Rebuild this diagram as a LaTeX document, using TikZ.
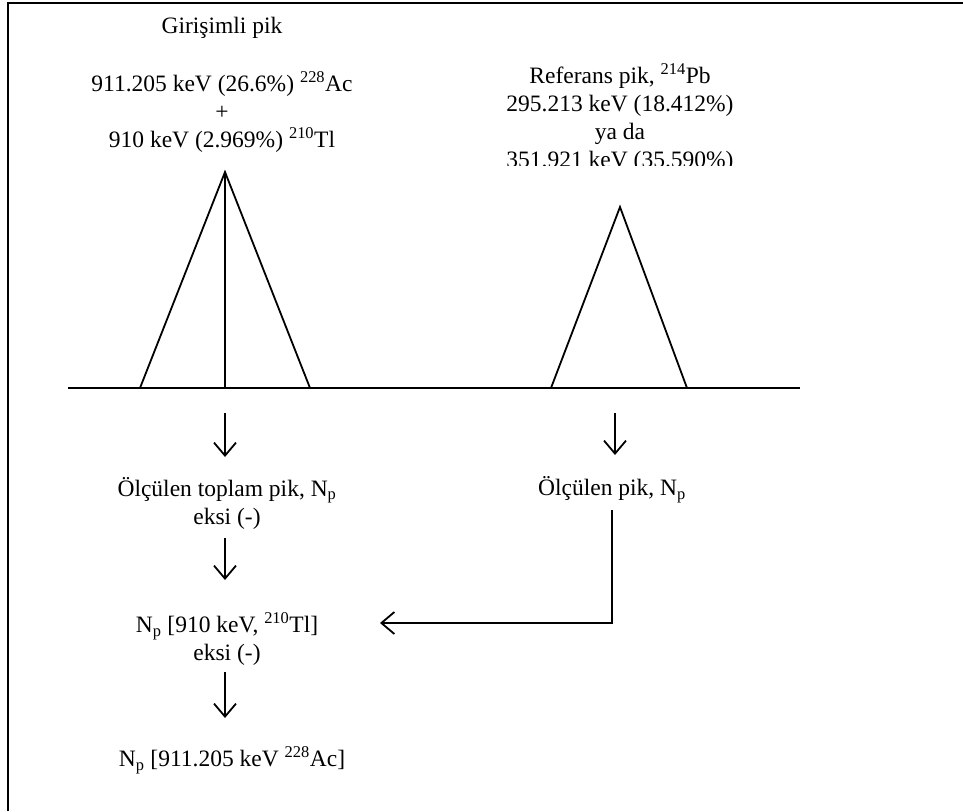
\documentclass[tikz,border=0pt]{standalone}
\usepackage{fontspec}
\setmainfont{Liberation Serif}
\usetikzlibrary{arrows.meta}

\begin{document}
\begin{tikzpicture}[x=1pt,y=-1pt,line width=1.8pt,
  lbl/.style={font=\fontsize{23.5}{28}\selectfont, align=center, inner sep=0pt},
  arr/.style={-{Straight Barb[length=13pt,width=22pt,line width=1.8pt]}}]
\useasboundingbox (0,0) rectangle (963,811);
% frame (only top and left edges show)
\draw[line width=2pt] (8,811) -- (8,3) -- (963,3);
% texts above the peaks
\node[lbl] (gpik) at (222,28) {Girişimli pik};
\node[lbl] (gsum) at (222,112) {911.205 keV (26.6\%) \textsuperscript{228}Ac\\+\\910 keV (2.969\%) \textsuperscript{210}Tl};
\begin{scope}
\clip (450,0) rectangle (800,165);
\node[lbl] (rpik) at (620,118) {Referans pik, \textsuperscript{214}Pb\\295.213 keV (18.412\%)\\ya da\\351.921 keV (35.590\%)};
\end{scope}
% peaks
\coordinate (L1) at (140,388); \coordinate (T1) at (225,172); \coordinate (R1) at (310,388);
\coordinate (M1) at (225,388);
\coordinate (L2) at (551,388); \coordinate (T2) at (620,207); \coordinate (R2) at (687,388);
\draw (L1) -- (T1) -- (R1); \draw (T1) -- (M1);
\draw (L2) -- (T2) -- (R2);
\draw (68,388) -- (800,388);
% left column
\node[lbl] (tot) at (227,503) {Ölçülen toplam pik, N\textsubscript{p}\\eksi (-)};
\node[lbl] (tl) at (227,639) {N\textsubscript{p} [910 keV, \textsuperscript{210}Tl]\\eksi (-)};
\node[lbl] (ac) at (232,760) {N\textsubscript{p} [911.205 keV \textsuperscript{228}Ac]};
\coordinate (a1) at (225,413); \coordinate (b1) at (225,457);
\coordinate (a2) at (225,538); \coordinate (b2) at (225,580);
\coordinate (a3) at (225,672); \coordinate (b3) at (225,718);
\draw[arr] (a1) -- (b1);
\draw[arr] (a2) -- (b2);
\draw[arr] (a3) -- (b3);
% right column
\node[lbl] (np) at (612,490) {Ölçülen pik, N\textsubscript{p}};
\coordinate (a4) at (615,413); \coordinate (b4) at (615,455);
\draw[arr] (a4) -- (b4);
\coordinate (c5) at (612,510); \coordinate (e5) at (380,623);
\draw[arr] (c5) |- (e5);
\end{tikzpicture}
\end{document}
